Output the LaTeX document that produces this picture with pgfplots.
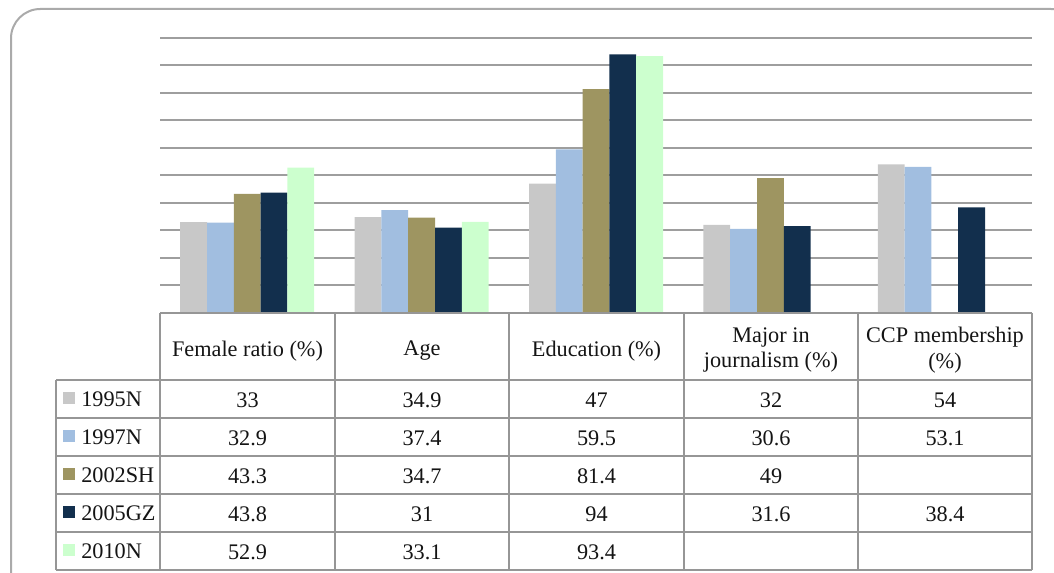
\documentclass[border=0pt]{standalone}
\usepackage{pgfplots}
\pgfplotsset{compat=1.18}
\usepackage{fontspec}
\setmainfont{Liberation Serif}
\definecolor{cA}{RGB}{200,200,200}
\definecolor{cB}{RGB}{161,190,224}
\definecolor{cC}{RGB}{158,149,97}
\definecolor{cD}{RGB}{18,47,77}
\definecolor{cE}{RGB}{204,255,206}
\definecolor{gridc}{RGB}{158,158,158}
\definecolor{tabc}{RGB}{150,150,150}
\definecolor{framec}{RGB}{170,170,170}
\begin{document}
\begin{tikzpicture}
\useasboundingbox (0,0) rectangle (790.5pt,-429.75pt);
\begin{scope}[x=0.75pt,y=-0.75pt]
% outer frame
\draw[framec,line width=1.5pt,rounded corners=22pt] (11,9) rectangle (1080,600);
\end{scope}
\begin{axis}[
  at={(120pt,-234.75pt)}, anchor=south west,
  scale only axis, width=654pt, height=206.25pt,
  xmin=-0.5, xmax=4.5, ymin=0, ymax=100,
  ytick={10,20,...,100}, xtick=\empty, yticklabels={},
  ymajorgrids, grid style={gridc,line width=1.5pt},
  axis line style={draw=none}, major tick length=0pt,
  ybar, bar width=20.1pt, clip=false,
  axis on top=false,
]
\addplot[fill=cA,draw=none,bar shift=-40.2pt] coordinates {(0,33) (1,34.9) (2,47) (3,32) (4,54)};
\addplot[fill=cB,draw=none,bar shift=-20.1pt] coordinates {(0,32.9) (1,37.4) (2,59.5) (3,30.6) (4,53.1)};
\addplot[fill=cC,draw=none,bar shift=0pt] coordinates {(0,43.3) (1,34.7) (2,81.4) (3,49)};
\addplot[fill=cD,draw=none,bar shift=20.1pt] coordinates {(0,43.8) (1,31) (2,94) (3,31.6) (4,38.4)};
\addplot[fill=cE,draw=none,bar shift=40.2pt] coordinates {(0,52.9) (1,33.1) (2,93.4)};
\end{axis}
\begin{scope}[x=0.75pt,y=-0.75pt]
\fill[white] (150,312) rectangle (1040,316);
% table grid
\draw[tabc,line width=1.5pt]
  (160,313) -- (1032,313)
  (56,380) -- (1032,380)
  (56,418) -- (1032,418)
  (56,456) -- (1032,456)
  (56,494) -- (1032,494)
  (56,532) -- (1032,532)
  (56,570) -- (1032,570)
  (56,380) -- (56,570)
  (160,313) -- (160,570)
  (335,313) -- (335,570)
  (509,313) -- (509,570)
  (684,313) -- (684,570)
  (858,313) -- (858,570)
  (1032,313) -- (1032,570);
\tikzset{hd/.style={font=\fontsize{16.7pt}{19pt}\selectfont,align=center,text=black!92,inner sep=0pt},
         cl/.style={font=\fontsize{16.7pt}{19pt}\selectfont,text=black!92,inner sep=0pt}}
\node[hd] at (247.5,351) {Female ratio (\%)};
\node[hd] at (422,351) {Age};
\node[hd] at (596.5,351) {Education (\%)};
\node[hd] at (771,350) {Major in\\journalism (\%)};
\node[hd] at (945,350) {CCP membership\\(\%)};
% legend keys
\foreach \c/\n [count=\i] in {cA/1995N,cB/1997N,cC/2002SH,cD/2005GZ,cE/2010N}{
  \fill[\c] (63,360+38*\i-6) rectangle (75,360+38*\i+6);
  \node[cl,anchor=west] at (81,361+38*\i) {\n};
}
% values
\foreach \v [count=\i] in {33,32.9,43.3,43.8,52.9}{\node[cl] at (247.5,362+38*\i) {\v};}
\foreach \v [count=\i] in {34.9,37.4,34.7,31,33.1}{\node[cl] at (422,362+38*\i) {\v};}
\foreach \v [count=\i] in {47,59.5,81.4,94,93.4}{\node[cl] at (596.5,362+38*\i) {\v};}
\foreach \v [count=\i] in {32,30.6,49,31.6}{\node[cl] at (771,362+38*\i) {\v};}
\foreach \v [count=\i] in {54,53.1,{},38.4}{\node[cl] at (945,362+38*\i) {\v};}
\end{scope}
\end{tikzpicture}
\end{document}
